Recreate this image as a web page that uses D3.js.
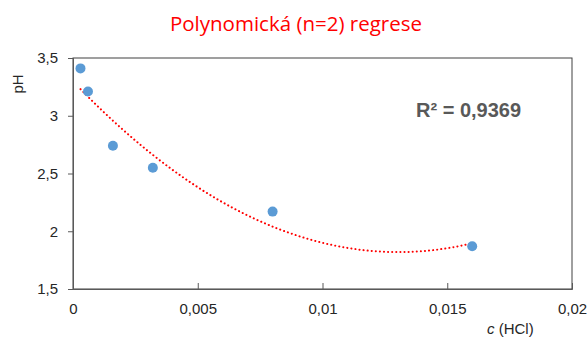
<!DOCTYPE html>
<html>
<head>
<meta charset="utf-8">
<script src="https://cdn.jsdelivr.net/npm/d3@7"></script>
<style>
  body { margin: 0; background: #fff; }
  svg text { font-family: "Liberation Sans", Arial, sans-serif; }
</style>
</head>
<body>
<svg id="chart" width="588" height="340"></svg>
<script>
var concHCl = [0.0003, 0.0006, 0.0016, 0.0032, 0.008, 0.016];
var phValues = [3.41, 3.21, 2.74, 2.55, 2.17, 1.87];
var xTicks = [0, 0.005, 0.01, 0.015, 0.02];
var yTicks = [1.5, 2, 2.5, 3, 3.5];
var rSquaredLabel = "R² = 0,9369";

var svg = d3.select("#chart");
var plotLeft = 73, plotRight = 572, plotTop = 58, plotBottom = 289;

var x = d3.scaleLinear().domain([0, 0.02]).range([plotLeft, plotRight]);
var y = d3.scaleLinear().domain([1.5, 3.5]).range([plotBottom, plotTop]);

var comma = function (d) { return String(d).replace(".", ","); };

// quadratic least squares fit (trendline)
function polyFit(xs, ys) {
  var n = xs.length, s = [0, 0, 0, 0, 0], t = [0, 0, 0];
  for (var i = 0; i < n; i++) {
    for (var k = 0; k < 5; k++) s[k] += Math.pow(xs[i], k);
    for (var k = 0; k < 3; k++) t[k] += ys[i] * Math.pow(xs[i], k);
  }
  var A = [[s[0], s[1], s[2], t[0]], [s[1], s[2], s[3], t[1]], [s[2], s[3], s[4], t[2]]];
  for (var c = 0; c < 3; c++) {
    for (var r = c + 1; r < 3; r++) {
      var f = A[r][c] / A[c][c];
      for (var k = c; k < 4; k++) A[r][k] -= f * A[c][k];
    }
  }
  var coef = [0, 0, 0];
  for (var r = 2; r >= 0; r--) {
    var v = A[r][3];
    for (var k = r + 1; k < 3; k++) v -= A[r][k] * coef[k];
    coef[r] = v / A[r][r];
  }
  return coef;
}
var coef = polyFit(concHCl, phValues);
var fitLine = d3.range(0, 101).map(function (i) {
  var xv = concHCl[0] + (concHCl[concHCl.length - 1] - concHCl[0]) * i / 100;
  return [xv, coef[0] + coef[1] * xv + coef[2] * xv * xv];
});

// title (centred on the whole chart, not the plot)
svg.append("text")
  .attr("x", 296).attr("y", 31)
  .attr("text-anchor", "middle")
  .style("font-family", "'Open Sans', sans-serif")
  .style("font-size", "20.5px")
  .attr("fill", "#ff0000")
  .text("Polynomická (n=2) regrese");

// frame
svg.append("rect")
  .attr("x", plotLeft).attr("y", plotTop)
  .attr("width", plotRight - plotLeft).attr("height", plotBottom - plotTop)
  .attr("fill", "none").attr("stroke", "#404040").attr("stroke-width", 1);

// y axis
var yAxis = svg.append("g")
  .attr("transform", "translate(" + plotLeft + ",0)")
  .call(d3.axisLeft(y).tickValues(yTicks).tickFormat(comma).tickSize(5).tickPadding(10));
yAxis.select(".domain").attr("stroke", "#595959");
yAxis.selectAll("line").attr("stroke", "#595959");
yAxis.selectAll("text").style("font-size", "15px").attr("fill", "#262626")
  .style("font-family", "'Liberation Sans', Arial, sans-serif");

// x axis, ticks pointing inward
var xAxis = svg.append("g")
  .attr("transform", "translate(0," + plotBottom + ")")
  .call(d3.axisBottom(x).tickValues(xTicks).tickFormat(comma).tickSize(-6).tickPadding(14));
xAxis.select(".domain").attr("stroke", "#595959");
xAxis.selectAll("line").attr("stroke", "#595959");
xAxis.selectAll("text").style("font-size", "15px").attr("fill", "#262626")
  .style("font-family", "'Liberation Sans', Arial, sans-serif");

// axis titles
svg.append("text")
  .attr("transform", "translate(23,84) rotate(-90)")
  .attr("text-anchor", "middle")
  .style("font-size", "15px").attr("fill", "#262626")
  .text("pH");

var xt = svg.append("text")
  .attr("x", 487).attr("y", 334)
  .style("font-size", "15px").attr("fill", "#262626");
xt.append("tspan").style("font-style", "italic").text("c");
xt.append("tspan").text(" (HCl)");

// trendline
svg.append("path")
  .datum(fitLine)
  .attr("d", d3.line().x(function (d) { return x(d[0]); }).y(function (d) { return y(d[1]); }))
  .attr("fill", "none")
  .attr("stroke", "#ff0000")
  .attr("stroke-width", 2)
  .attr("stroke-linecap", "round")
  .attr("stroke-dasharray", "0.1 4");

// points
svg.selectAll("circle.pt")
  .data(concHCl)
  .enter().append("circle")
  .attr("class", "pt")
  .attr("cx", function (d) { return x(d); })
  .attr("cy", function (d, i) { return y(phValues[i]); })
  .attr("r", 5)
  .attr("fill", "#5b9bd5");

// R squared label
svg.append("text")
  .attr("x", 416).attr("y", 117)
  .style("font-size", "20px").style("font-weight", "bold")
  .attr("fill", "#595959")
  .text(rSquaredLabel);
</script>
</body>
</html>
